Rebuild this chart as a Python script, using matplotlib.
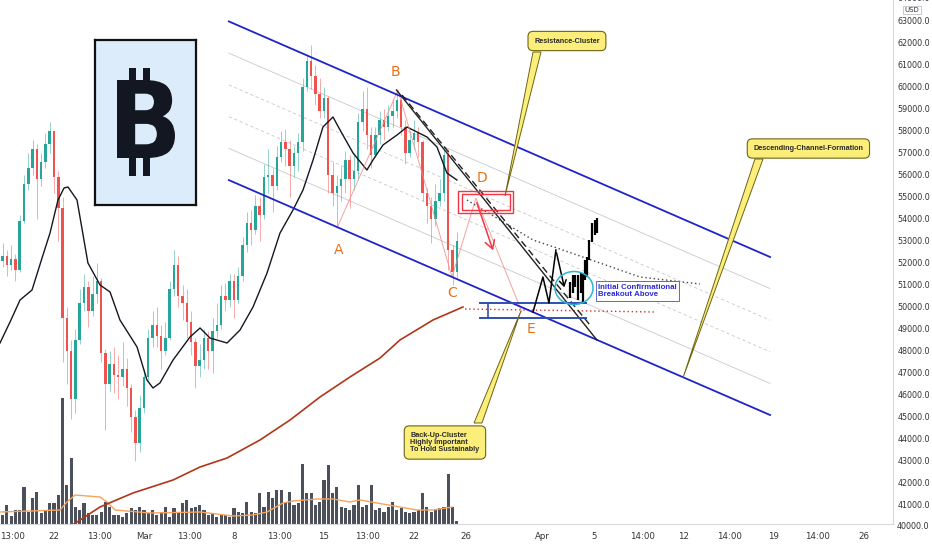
import numpy as np
import matplotlib
matplotlib.use("Agg")
import matplotlib.pyplot as plt
from matplotlib.patches import Rectangle, Ellipse, Polygon, PathPatch
from matplotlib.textpath import TextPath
from matplotlib.font_manager import FontProperties, fontManager
from matplotlib.transforms import Affine2D
from matplotlib.ticker import FormatStrFormatter

# BTCUSD 8h candles, 18 Feb - 25 Mar 2021 (prices in thousand USD), days counted from 1 Mar
first_open = 52.1
close = [52.3, 51.9, 52.2, 51.7, 53.9, 55.6, 56.3, 57.2, 55.8, 56.6, 57.4, 58.0,
         55.9, 54.5, 49.5, 48.0, 45.8, 48.5, 50.2, 50.9, 49.8, 50.6, 51.2, 47.9,
         46.5, 47.4, 46.9, 46.8, 47.2, 46.3, 45.0, 43.8, 45.4, 46.8, 48.6, 49.2,
         48.7, 48.0, 48.6, 50.8, 51.9, 50.5, 50.2, 49.3, 48.4, 47.3, 47.6, 48.6,
         48.0, 48.9, 49.2, 50.5, 50.3, 51.2, 50.3, 51.4, 52.8, 53.8, 53.5, 54.6,
         54.2, 55.9, 56.0, 55.5, 56.8, 57.5, 57.2, 56.4, 57.0, 57.5, 60.0, 61.2,
         60.5, 59.7, 58.9, 59.5, 56.0, 55.2, 55.5, 55.8, 56.7, 55.8, 56.2, 58.4,
         59.0, 57.8, 56.9, 57.8, 58.5, 58.2, 58.7, 58.9, 59.4, 58.2, 57.0, 57.6,
         57.9, 57.5, 55.2, 54.6, 54.0, 54.8, 55.2, 56.9, 52.6, 51.6, 53.0]
high = [52.9, 52.6, 52.8, 52.4, 54.2, 56.0, 57.0, 57.6, 57.4, 57.0, 57.9, 58.4,
        58.0, 56.2, 55.0, 50.0, 48.5, 49.0, 50.8, 51.5, 51.2, 51.4, 52.0, 51.3,
        48.1, 48.0, 48.2, 47.8, 48.4, 47.7, 46.5, 45.3, 46.0, 47.2, 49.0, 49.8,
        50.0, 49.2, 49.3, 51.2, 52.6, 52.3, 51.0, 50.8, 49.8, 48.6, 48.3, 49.0,
        48.9, 49.5, 50.2, 51.0, 51.1, 51.5, 51.5, 51.8, 53.2, 54.3, 54.4, 55.1,
        55.0, 56.5, 57.2, 56.3, 57.3, 58.0, 58.1, 57.6, 57.3, 57.9, 60.4, 61.5,
        61.9, 61.0, 60.4, 60.0, 59.6, 56.6, 56.0, 56.4, 57.1, 56.9, 57.0, 58.8,
        59.8, 60.0, 58.2, 58.2, 58.9, 59.0, 59.2, 59.4, 59.9, 59.6, 58.5, 58.0,
        58.5, 58.2, 57.6, 55.4, 55.0, 55.6, 55.8, 57.3, 57.2, 52.8, 53.4]
low = [51.8, 51.4, 51.7, 51.2, 51.6, 53.8, 55.3, 56.0, 54.0, 55.5, 56.3, 57.0,
       55.2, 53.0, 47.5, 46.5, 44.9, 45.2, 48.3, 49.8, 49.1, 49.6, 50.2, 47.5,
       44.4, 46.2, 46.1, 45.8, 46.4, 45.5, 44.3, 43.0, 43.4, 45.2, 46.6, 48.2,
       48.2, 47.2, 47.8, 48.5, 50.5, 50.0, 49.4, 48.6, 47.8, 46.3, 46.8, 47.2,
       47.2, 47.0, 48.6, 49.0, 49.8, 50.0, 49.5, 50.2, 51.2, 52.5, 52.8, 53.3,
       53.0, 54.0, 55.2, 54.3, 55.3, 56.6, 56.4, 55.0, 55.9, 56.2, 57.1, 59.8,
       59.9, 59.2, 58.6, 58.6, 55.2, 54.6, 53.7, 54.8, 55.2, 54.5, 55.3, 55.8,
       58.0, 57.2, 56.3, 56.8, 57.4, 57.6, 58.0, 58.2, 58.6, 57.8, 56.5, 56.8,
       57.2, 56.8, 54.8, 53.8, 52.9, 53.7, 54.6, 54.8, 51.7, 51.0, 51.3]
volume = [9, 19, 8, 14, 14, 37, 12, 26, 32, 11, 14, 21, 21, 29, 126, 39, 66, 17,
          14, 21, 11, 9, 9, 12, 22, 17, 9, 9, 7, 11, 16, 14, 17, 14, 11, 14,
          9, 12, 17, 7, 16, 12, 21, 24, 16, 17, 19, 14, 9, 11, 7, 9, 9, 7,
          16, 12, 11, 22, 12, 11, 31, 17, 32, 26, 34, 34, 22, 32, 19, 21, 60, 31,
          31, 19, 22, 44, 59, 31, 37, 17, 16, 14, 19, 39, 17, 19, 39, 14, 16, 12,
          17, 22, 14, 16, 12, 11, 12, 14, 31, 17, 12, 14, 16, 17, 50, 17, 3]

vol_ma_day = [-11.2, -6.53, -5.99, -5.37, -3.42, -2.88, -2.25, 0.47, 4.36, 6.92,
              8.48, 9.57, 10.81, 11.59, 13.45, 14.70, 16.02, 16.80, 18.12, 19.91,
              21.23, 22.48, 23.96]
vol_ma_val = [12, 14, 22, 29, 27, 22, 14, 11, 12, 8, 9, 12, 21, 23, 25, 25, 22,
              24, 21, 17, 14, 14, 17]

ma_day = [-11.20, -10.42, -9.64, -8.71, -7.93, -7.31, -6.69, -6.22, -5.91, -5.21,
          -4.36, -3.42, -2.64, -1.87, -0.54, 0.23, 0.70, 1.24, 2.26, 3.58, 4.36,
          5.13, 6.46, 7.47, 8.48, 9.57, 10.58, 11.59, 12.37, 13.15, 13.92, 14.70,
          15.25, 16.26, 17.34, 17.81, 18.59, 19.68, 20.46, 20.92, 22.01, 22.79,
          23.56, 24.34]
ma_val = [48363, 49318, 50318, 50772, 52227, 53363, 54863, 55408, 55454, 54863,
          52000, 51000, 50681, 49409, 48181, 46681, 46318, 46545, 47590, 48636,
          49045, 48590, 48363, 48954, 50000, 51545, 53363, 54408, 55318, 56681,
          58181, 58636, 58045, 57000, 56227, 56681, 57363, 57818, 58181, 58045,
          57727, 57272, 56090, 55772]

ma200_day = [-5.8, -3.42, -0.86, 2.26, 4.36, 6.46, 9.02, 11.36, 13.69, 16.02,
             18.36, 19.91, 22.48, 24.81]
ma200_val = [40000, 40909, 41545, 42136, 42727, 43136, 43954, 44863, 45908, 46818,
             47681, 48500, 49409, 50000]

# drawings
channel_day = [6.6, 48.7]
channel_top = [62981, 52272]
channel_bot = [55768, 45090]
wave_day = [15.01, 19.76, 23.96, 25.82, 29.40]
wave_val = [53590, 59863, 51363, 54954, 49772]
wave_labels = ["A", "B", "C", "D", "E"]
label_day = [15.17, 19.52, 23.96, 26.29, 30.10]
label_val = [52590, 60681, 50636, 55863, 48999]
trend_solid = ([19.64, 35.23], [59863, 48500])
trend_dash = ([20.07, 34.69], [59636, 49181])
arc_day = [25.12, 27.69, 30.26, 32.12, 35.47, 38.58, 43.25]
arc_val = [54863, 53954, 53045, 52681, 51999, 51363, 51045]
ma200_ext = ([24.97, 39.74], [49909, 49772])
support_day = [26.13, 34.38]
support_val = [50181, 49500]
path_day = [30.26, 31.03, 31.50, 32.04, 32.74]
path_val = [49773, 51363, 50181, 52590, 50772]
proj_day = [33.13, 33.37, 33.52, 33.76, 33.99, 34.15, 34.30, 34.46, 34.61, 34.85, 35.08, 35.23]
proj_hi = [51136, 51454, 51454, 51454, 51545, 51545, 52136, 52272, 53045, 53818, 53954, 54045]
proj_lo = [50409, 50636, 50909, 50318, 50636, 50181, 51227, 51363, 52136, 52954, 53272, 53363]

xtick_day = [-10.25, -7, -3.5, 0, 3.5, 7, 10.5, 14, 17.42, 21, 25, 31, 35, 38.81,
             42, 45.5, 49, 52.42, 56]
xtick_lab = ["13:00", "22", "13:00", "Mar", "13:00", "8", "13:00", "15", "13:00",
             "22", "26", "Apr", "5", "14:00", "12", "14:00", "19", "14:00", "26"]

names = {f.name for f in fontManager.ttflist}
if "Liberation Sans Narrow" in names:
    nfont, nsize = "Liberation Sans Narrow", 6.2
else:
    nfont, nsize = "Liberation Sans", 5.2

close = np.array(close) * 1000
high = np.array(high) * 1000
low = np.array(low) * 1000
opens = np.r_[first_open * 1000, close[:-1]]
t = -11 + np.arange(len(close)) / 3.0

fig = plt.figure(figsize=(9.32, 5.5), dpi=100)
fig.patch.set_facecolor("white")
ax = fig.add_axes([0, 26 / 550, 893 / 932, 524 / 550])
axv = ax.twinx()
ax.set_zorder(axv.get_zorder() + 1)
ax.patch.set_visible(False)

# volume pane
axv.bar(t, volume, width=0.24, color="#4c505b")
axv.plot(vol_ma_day, vol_ma_val, color="#f7a35c", lw=1)
axv.set_ylim(0, 524)
axv.set_axis_off()

# candles
up = close >= opens
cols = np.where(up, "#26a69a", "#ef5350")
ax.vlines(t, low, high, colors=cols, lw=0.7, alpha=0.5, zorder=2)
body = np.where(np.abs(close - opens) < 60, 60, close - opens)
ax.bar(t, body, bottom=opens, width=0.19, color=cols, zorder=3)

ax.plot(ma_day, ma_val, color="#131722", lw=1.0, zorder=4)
ax.plot(ma200_day, ma200_val, color="#b0361a", lw=1.2, zorder=4)
ax.plot(*ma200_ext, color="#d32f2f", lw=1.0, ls=(0, (1, 2)), zorder=4)

# descending channel with inner levels
top = np.array(channel_top)
bot = np.array(channel_bot)
for f, st in [(0.2, "-"), (0.4, "--"), (0.6, "--"), (0.8, "-")]:
    ax.plot(channel_day, top + f * (bot - top), color="#c9c9c9", lw=0.6,
            ls=st if st == "-" else (0, (4, 3)), zorder=1)
ax.plot(channel_day, top, color="#1f24c9", lw=1.3, zorder=5)
ax.plot(channel_day, bot, color="#1f24c9", lw=1.3, zorder=5)

# wave count
ax.plot(wave_day, wave_val, color="#f28b82", lw=0.7, alpha=0.8, zorder=4)
for d, v, s in zip(label_day, label_val, wave_labels):
    ax.text(d, v, s, color="#e8711a", fontsize=10, ha="center", va="center", zorder=8)

ax.plot(*trend_solid, color="#222222", lw=1.0, zorder=5)
ax.plot(*trend_dash, color="#222222", lw=1.0, ls=(0, (5, 3)), zorder=5)
ax.plot(arc_day, arc_val, color="#444444", lw=1.0, ls=(0, (1, 2)), zorder=4)

# resistance box D
ax.add_patch(Rectangle((24.42, 54272), 4.28, 1000, fill=False, ec="#f23645", lw=1.0, zorder=6))
ax.add_patch(Rectangle((24.73, 54409), 3.74, 727, fill=False, ec="#f23645", lw=1.0, zorder=6))
ax.annotate("", xy=(27.22, 52454), xytext=(25.82, 54863), zorder=6,
            arrowprops=dict(arrowstyle="->,head_length=0.6,head_width=0.35",
                            color="#f23645", lw=1.1))

# support zone E
for v in support_val:
    ax.plot(support_day, [v, v], color="#2f4fb0", lw=1.4, zorder=6)
ax.plot([26.76, 26.76], support_val, color="#2f4fb0", lw=1.2, zorder=6)

# projected path
ax.plot(path_day[:-1], path_val[:-1], color="black", lw=1.1, zorder=6)
ax.annotate("", xy=(path_day[-1], path_val[-1]), xytext=(path_day[-2], path_val[-2]),
            zorder=6, arrowprops=dict(arrowstyle="->,head_length=0.4,head_width=0.25",
                                      color="black", lw=1.1))
ax.vlines(proj_day, proj_lo, proj_hi, color="black", lw=1.6, zorder=6)
ax.add_patch(Ellipse((33.45, 50863), 2.96, 1500, fill=False, ec="#2bb5d4", lw=1.1, zorder=6))
ax.text(35.31, 50727, "Initial Confirmational\nBreakout Above", color="#2b2bd4",
        fontsize=nsize + 0.5, family=nfont, fontweight="bold", ha="left", va="center",
        linespacing=1.1, zorder=8,
        bbox=dict(boxstyle="square,pad=0.3", fc="white", ec="#5c6bc0", lw=0.7))


def callout(txt, cx, cy, base, tip):
    ax.add_patch(Polygon([(base[0], base[2]), (base[1], base[2]), tip], closed=True,
                         fc="#fbee7a", ec="#6e6414", lw=0.7, zorder=7))
    ax.text(cx, cy, txt, fontsize=nsize, family=nfont, fontweight="bold", color="#2a2a2a",
            ha="center", va="center", multialignment="left", linespacing=1.0, zorder=8,
            bbox=dict(boxstyle="round,pad=0.85,rounding_size=0.7", fc="#fbee7a",
                      ec="#6e6414", lw=0.8))


callout("Resistance-Cluster", 32.90, 62090, (30.26, 30.88, 61590), (28.08, 55045))
callout("Descending-Channel-Formation", 51.68, 57204, (47.52, 48.15, 56727), (41.92, 46772))
callout("Back-Up-Cluster\nHighly Important\nTo Hold Sustainably", 23.41, 43840,
        (25.67, 26.29, 44727), (29.32, 49818))

# axes styling
ax.set_xlim(-11.2, 58.26)
ax.set_ylim(40136, 63954)
ax.yaxis.tick_right()
ax.set_yticks(np.arange(41000, 64000, 1000))
ax.yaxis.set_major_formatter(FormatStrFormatter("%.1f"))
ax.tick_params(axis="y", length=0, pad=3, labelsize=5.8, labelcolor="#333333")
ax.set_xticks(xtick_day)
ax.set_xticklabels(xtick_lab)
ax.tick_params(axis="x", length=0, pad=6, labelsize=6.2, labelcolor="#333333")
for s in ["top", "left"]:
    ax.spines[s].set_visible(False)
for s in ["right", "bottom"]:
    ax.spines[s].set_color("#d6d8de")
    ax.spines[s].set_linewidth(0.8)
for v in [64000, 40000]:
    ax.text(1 + 4 / 893, v, "%.1f" % v, transform=ax.get_yaxis_transform(), fontsize=5.8,
            color="#333333", ha="left", va="center", clip_on=False)
fig.text(912 / 932, 1 - 10 / 550, "USD", fontsize=5, color="#333333", ha="center",
         va="center", bbox=dict(boxstyle="square,pad=0.2", fc="white", ec="#b2b5be", lw=0.5))

# bitcoin logo overlay
lg = fig.add_axes([95 / 932, 1 - 205 / 550, 101 / 932, 165 / 550])
lg.set_xlim(95, 196)
lg.set_ylim(205, 40)
lg.set_xticks([])
lg.set_yticks([])
lg.set_facecolor("#dcecfb")
for s in lg.spines.values():
    s.set_linewidth(1.6)
    s.set_color("#111111")
tp = TextPath((0, 0), "B", size=1, prop=FontProperties(family="DejaVu Sans", weight="bold"))
ext = tp.get_extents()
tr = (Affine2D().translate(-ext.x0, -ext.y0)
      .scale(58 / ext.width, -78 / ext.height).translate(117, 158))
lg.add_patch(PathPatch(tr.transform_path(tp), fc="#131722", ec="none"))
for x0 in [129, 143]:
    lg.add_patch(Rectangle((x0, 68), 7, 16, fc="#131722", ec="none"))
    lg.add_patch(Rectangle((x0, 154), 7, 22, fc="#131722", ec="none"))

fig.savefig("out.png", dpi=100)
